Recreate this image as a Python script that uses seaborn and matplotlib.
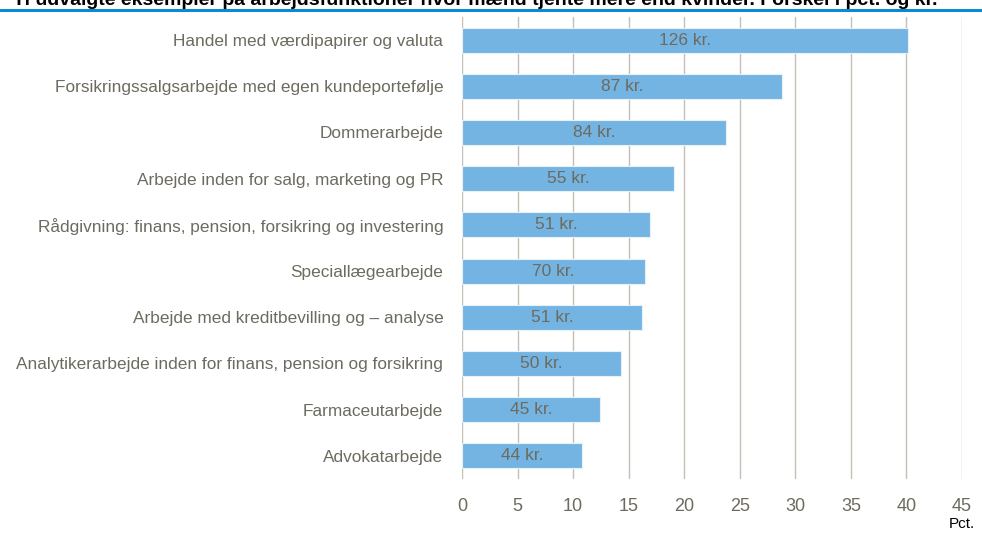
import matplotlib
matplotlib.use("Agg")
import matplotlib.pyplot as plt
import seaborn as sns
import pandas as pd

categories = [
    "Handel med værdipapirer og valuta",
    "Forsikringssalgsarbejde med egen kundeportefølje",
    "Dommerarbejde",
    "Arbejde inden for salg, marketing og PR",
    "Rådgivning: finans, pension, forsikring og investering",
    "Speciallægearbejde",
    "Arbejde med kreditbevilling og – analyse",
    "Analytikerarbejde inden for finans, pension og forsikring",
    "Farmaceutarbejde",
    "Advokatarbejde",
]
pct_values = [40.1, 28.8, 23.8, 19.1, 16.9, 16.5, 16.2, 14.3, 12.4, 10.8]
kr_labels = ["126 kr.", "87 kr.", "84 kr.", "55 kr.", "51 kr.", "70 kr.", "51 kr.", "50 kr.", "45 kr.", "44 kr."]
x_ticks = [0, 5, 10, 15, 20, 25, 30, 35, 40, 45]
title = "Ti udvalgte eksempler på arbejdsfunktioner hvor mænd tjente mere end kvinder. Forskel i pct. og kr."

df = pd.DataFrame({"kategori": categories, "pct": pct_values})

sns.set_style("white")
plt.rcParams["font.family"] = ["Liberation Sans", "DejaVu Sans"]

GRAY = "#6d6b5f"
fig = plt.figure(figsize=(9.82, 5.38), dpi=100)
ax = fig.add_axes([0.4705, 0.1097, 0.5091, 0.8587])

sns.barplot(data=df, y="kategori", x="pct", orient="h", color="#74b4e3",
            saturation=1, width=0.54, edgecolor="#e6f1fa", linewidth=0.8, ax=ax, zorder=3)

for i, (v, lab) in enumerate(zip(pct_values, kr_labels)):
    ax.text(v / 2, i, lab, ha="center", va="center", color=GRAY, fontsize=12.5, zorder=4)

ax.set_xlim(0, 45)
ax.set_ylim(9.5, -0.5)
ax.set_xticks(x_ticks)
ax.set_xticklabels([str(t) for t in x_ticks])
ax.grid(axis="x", color="#c4c0b4", linewidth=1.0, zorder=0)
ax.grid(axis="y", visible=False)
for s in ax.spines.values():
    s.set_visible(False)
ax.tick_params(axis="x", length=0, pad=14, labelsize=13, labelcolor=GRAY)
ax.tick_params(axis="y", length=0, pad=13.5, labelsize=12.4, labelcolor=GRAY)
ax.set_xlabel("")
ax.set_ylabel("")

fig.text(0.993, 0.013, "Pct.", ha="right", va="bottom", fontsize=11, color="black")

fig.text(0.013, 1 - 5 / 538, title, ha="left", va="baseline", fontsize=14,
         fontweight="bold", color="black")
fig.add_artist(plt.Line2D([0, 1], [1 - 9.5 / 538, 1 - 9.5 / 538], color="#0a8bd0",
                          linewidth=2.2, transform=fig.transFigure))

fig.savefig("out.png", dpi=100)
